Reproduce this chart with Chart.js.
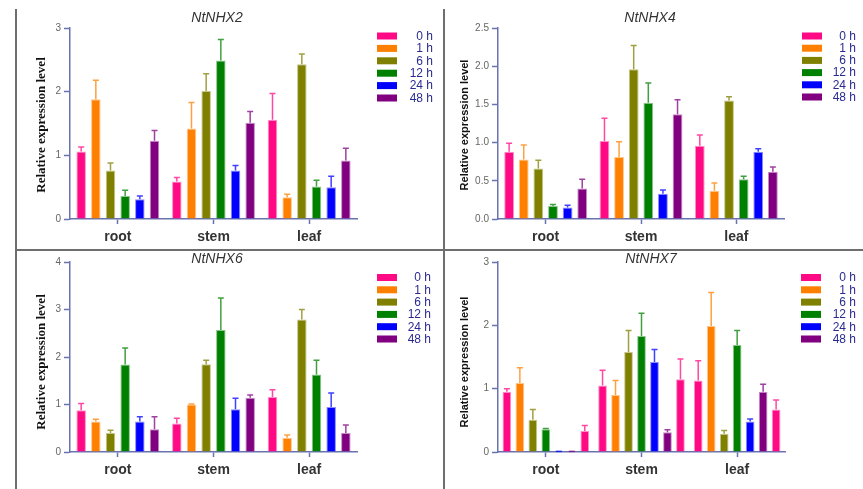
<!DOCTYPE html>
<html><head><meta charset="utf-8">
<script src="https://cdn.jsdelivr.net/npm/chart.js@4.4.0/dist/chart.umd.min.js"></script>
<style>
html,body{margin:0;padding:0;background:#fff;}
#wrap{position:relative;width:863px;height:489px;overflow:hidden;background:#fff;}
.panel{position:absolute;}
.line{position:absolute;background:#6e6e6e;}
canvas{display:block;}
</style></head><body>
<div id="wrap">
  <div class="panel" style="left:0;top:0"><canvas id="c1" width="443" height="249"></canvas></div>
  <div class="panel" style="left:444px;top:0"><canvas id="c2" width="419" height="249"></canvas></div>
  <div class="panel" style="left:0;top:251px"><canvas id="c3" width="443" height="238"></canvas></div>
  <div class="panel" style="left:444px;top:251px"><canvas id="c4" width="419" height="238"></canvas></div>
  <div class="line" style="left:15px;top:9px;width:2px;height:480px"></div>
  <div class="line" style="left:443px;top:9px;width:2px;height:480px"></div>
  <div class="line" style="left:15px;top:249px;width:848px;height:2px"></div>
</div>
<script>
// ---------- data ----------
const categories = ['root', 'stem', 'leaf'];
const timeLabels = ['0 h', '1 h', '6 h', '12 h', '24 h', '48 h'];

// rows = time points (0,1,6,12,24,48 h), columns = root, stem, leaf
const nhx2Mean = [
  [1.06, 0.59, 1.56],
  [1.88, 1.42, 0.34],
  [0.76, 2.01, 2.43],
  [0.36, 2.49, 0.51],
  [0.31, 0.76, 0.50],
  [1.23, 1.51, 0.92]
];
const nhx2Err = [
  [0.07, 0.06, 0.41],
  [0.30, 0.41, 0.05],
  [0.12, 0.27, 0.16],
  [0.09, 0.33, 0.10],
  [0.05, 0.08, 0.17],
  [0.16, 0.18, 0.19]
];

const nhx4Mean = [
  [0.88, 1.02, 0.96],
  [0.78, 0.81, 0.37],
  [0.66, 1.96, 1.55],
  [0.17, 1.52, 0.52],
  [0.15, 0.33, 0.88],
  [0.40, 1.37, 0.62]
];
const nhx4Err = [
  [0.11, 0.30, 0.14],
  [0.19, 0.20, 0.10],
  [0.11, 0.31, 0.05],
  [0.02, 0.26, 0.04],
  [0.03, 0.05, 0.04],
  [0.12, 0.19, 0.06]
];

const nhx6Mean = [
  [0.88, 0.60, 1.16],
  [0.64, 1.00, 0.30],
  [0.40, 1.85, 2.79],
  [1.84, 2.57, 1.63],
  [0.64, 0.90, 0.95],
  [0.48, 1.14, 0.40]
];
const nhx6Err = [
  [0.14, 0.11, 0.15],
  [0.05, 0.01, 0.06],
  [0.06, 0.08, 0.21],
  [0.35, 0.67, 0.30],
  [0.10, 0.23, 0.29],
  [0.26, 0.06, 0.17]
];

// NtNHX7 has an extra (7th, unlabelled) pink bar per group
const nhx7Mean = [
  [0.95, 1.05, 1.13],
  [1.09, 0.90, 1.99],
  [0.51, 1.58, 0.29],
  [0.36, 1.83, 1.69],
  [0.01, 1.42, 0.48],
  [0.01, 0.31, 0.95],
  [0.33, 1.15, 0.67]
];
const nhx7Err = [
  [0.05, 0.24, 0.31],
  [0.24, 0.23, 0.53],
  [0.16, 0.34, 0.05],
  [0.01, 0.36, 0.23],
  [0.00, 0.20, 0.04],
  [0.00, 0.04, 0.12],
  [0.09, 0.32, 0.15]
];

const yTicks2 = [0, 1, 2, 3];
const yTicks4 = [0, 0.5, 1.0, 1.5, 2.0, 2.5];
const yTicks6 = [0, 1, 2, 3, 4];
const yTicks7 = [0, 1, 2, 3];

// ---------- styles ----------
const seriesColors = ['#ff0a84', '#ff8000', '#808000', '#008000', '#0000ff', '#800080', '#ff0a84'];
const axisColor = '#6a72b0';
function rgba(hex, a) {
  const n = parseInt(hex.slice(1), 16);
  return `rgba(${(n >> 16) & 255},${(n >> 8) & 255},${n & 255},${a})`;
}

// error bars + title + y title + legend
const decorPlugin = {
  id: 'decor',
  afterDatasetsDraw(chart, args, opts) {
    const ctx = chart.ctx;
    const yScale = chart.scales.y;
    ctx.save();
    chart.data.datasets.forEach((ds, di) => {
      const meta = chart.getDatasetMeta(di);
      meta.data.forEach((bar, i) => {
        const v = ds.data[i], e = ds.errors[i];
        const yTop = yScale.getPixelForValue(v + e);
        ctx.strokeStyle = rgba(ds.backgroundColor, 0.75);
        ctx.lineWidth = 1.5;
        ctx.beginPath();
        ctx.moveTo(bar.x, bar.y);
        ctx.lineTo(bar.x, yTop);
        ctx.moveTo(bar.x - 3, yTop);
        ctx.lineTo(bar.x + 3, yTop);
        ctx.stroke();
      });
    });
    // title
    ctx.fillStyle = '#333';
    ctx.font = 'italic 14px "Liberation Sans", Arial, sans-serif';
    ctx.textAlign = 'center';
    ctx.textBaseline = 'middle';
    ctx.fillText(opts.title, opts.titleX, opts.titleY);
    // y title
    ctx.save();
    ctx.translate(opts.yTitleX, opts.yTitleY);
    ctx.rotate(-Math.PI / 2);
    ctx.font = opts.yTitleFont;
    ctx.fillStyle = '#111';
    ctx.fillText('Relative expression level', 0, 0);
    ctx.restore();
    // legend
    ctx.font = '12px "Liberation Sans", Arial, sans-serif';
    ctx.textAlign = 'right';
    timeLabels.forEach((lab, i) => {
      const y = opts.legY + i * opts.legDy;
      ctx.fillStyle = seriesColors[i];
      ctx.fillRect(opts.legX, y - 3.5, 20, 7);
      ctx.fillStyle = '#2a2a92';
      ctx.fillText(lab, opts.legTextX, y + 0.5);
    });
    ctx.restore();
  }
};

function makeChart(id, means, errs, ticks, decimals, lay, deco, barPct, catPct) {
  const datasets = means.map((row, i) => ({
    label: timeLabels[i] || '',
    data: row,
    errors: errs[i],
    backgroundColor: seriesColors[i],
    borderColor: rgba(seriesColors[i], 0.45),
    borderWidth: 1,
    barPercentage: barPct,
    categoryPercentage: catPct
  }));
  return new Chart(document.getElementById(id), {
    type: 'bar',
    data: { labels: categories, datasets },
    options: {
      responsive: false,
      animation: false,
      devicePixelRatio: 1,
      layout: { padding: lay.padding },
      plugins: { legend: { display: false }, tooltip: { enabled: false }, decor: deco },
      scales: {
        x: {
          afterFit(s) { s.height = 28; },
          grid: { display: true, drawOnChartArea: false, drawTicks: true, tickLength: 5, tickColor: axisColor, tickWidth: 1.5, offset: false },
          border: { display: true, color: axisColor, width: 1.5 },
          ticks: { color: '#333', font: { family: '"Liberation Sans", Arial, sans-serif', size: 14, weight: 'bold' }, padding: 5 }
        },
        y: {
          min: 0, max: ticks[ticks.length - 1],
          afterFit(s) { s.width = 40; },
          afterBuildTicks(s) { s.ticks = ticks.map(v => ({ value: v })); },
          grid: { display: true, drawOnChartArea: false, drawTicks: true, tickLength: 6, tickColor: axisColor, tickWidth: 1.5 },
          border: { display: true, color: axisColor, width: 1.5 },
          ticks: { color: '#666', font: { family: '"Liberation Sans", Arial, sans-serif', size: 10 }, padding: 3,
                   callback: v => Number(v).toFixed(decimals) }
        }
      }
    },
    plugins: [decorPlugin]
  });
}

makeChart('c1', nhx2Mean, nhx2Err, yTicks2, 0,
  { padding: { left: 30, right: 86, top: 28, bottom: 2 } },
  { title: 'NtNHX2', titleX: 217, titleY: 18, yTitleX: 42, yTitleY: 125,
    yTitleFont: 'bold 13px "Liberation Serif", "Times New Roman", serif',
    legX: 377, legY: 36, legDy: 12.4, legTextX: 433 }, 0.65, 0.92);

makeChart('c2', nhx4Mean, nhx4Err, yTicks4, 1,
  { padding: { left: 14, right: 79, top: 28, bottom: 2 } },
  { title: 'NtNHX4', titleX: 206, titleY: 18, yTitleX: 21, yTitleY: 125,
    yTitleFont: 'bold 11px "Liberation Sans", Arial, sans-serif',
    legX: 358, legY: 36, legDy: 12.2, legTextX: 412 }, 0.67, 0.92);

makeChart('c3', nhx6Mean, nhx6Err, yTicks6, 0,
  { padding: { left: 30, right: 86, top: 11, bottom: 9 } },
  { title: 'NtNHX6', titleX: 217, titleY: 8.5, yTitleX: 42, yTitleY: 111,
    yTitleFont: 'bold 13px "Liberation Serif", "Times New Roman", serif',
    legX: 377, legY: 26.5, legDy: 12.3, legTextX: 431 }, 0.65, 0.92);

makeChart('c4', nhx7Mean, nhx7Err, yTicks7, 0,
  { padding: { left: 14, right: 78, top: 11, bottom: 9 } },
  { title: 'NtNHX7', titleX: 207, titleY: 8.5, yTitleX: 21, yTitleY: 111,
    yTitleFont: 'bold 11px "Liberation Sans", Arial, sans-serif',
    legX: 357, legY: 26.5, legDy: 12.3, legTextX: 412 }, 0.67, 0.95);
</script>
</body></html>
